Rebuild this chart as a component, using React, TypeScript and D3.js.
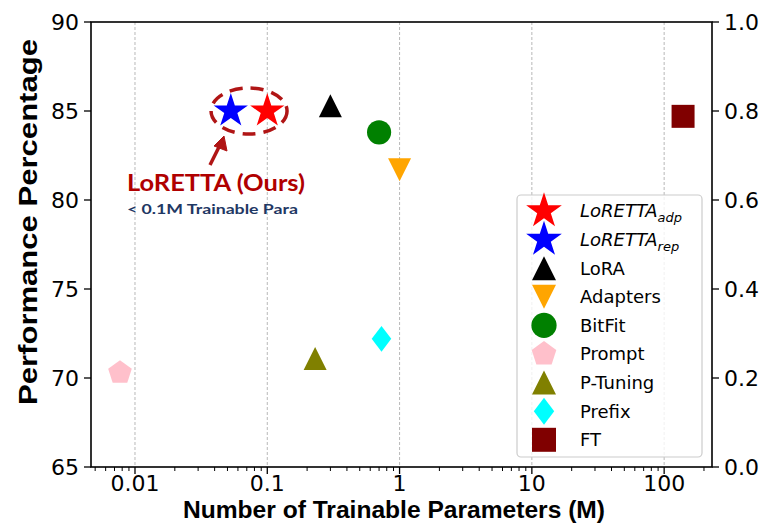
import React from "react";
import * as d3 from "d3";

const methods = ["LoRETTA_adp", "LoRETTA_rep", "LoRA", "Adapters", "BitFit", "Prompt", "P-Tuning", "Prefix", "FT"];
const legendMain = ["LoRETTA", "LoRETTA", "LoRA", "Adapters", "BitFit", "Prompt", "P-Tuning", "Prefix", "FT"];
const legendSub = ["adp", "rep", "", "", "", "", "", "", ""];
const params = [0.1, 0.053, 0.3, 1.0, 0.7, 0.0077, 0.23, 0.73, 139];
const performance = [85.0, 85.0, 85.3, 81.7, 83.8, 70.3, 71.1, 72.2, 84.7];
const colors = ["#ff0000", "#0000ff", "#000000", "#ffa500", "#008000", "#ffc0cb", "#808000", "#00ffff", "#800000"];
const markers = ["star", "star", "tri", "triDown", "circle", "pentagon", "tri", "diamond", "square"];
const xTicks = [0.01, 0.1, 1, 10, 100];
const xTickLabels = ["0.01", "0.1", "1", "10", "100"];
const yTicks = [65, 70, 75, 80, 85, 90];
const y2Ticks = [0, 0.2, 0.4, 0.6, 0.8, 1.0];

const W = 776, H = 527;
const L = 91, R = 712, T = 22, B = 467;

function markerPath(kind: string, s: number): string {
  const p = d3.path();
  if (kind === "star") {
    const ro = s * 1.5, ri = ro * 0.381966;
    for (let i = 0; i < 10; i++) {
      const r = i % 2 === 0 ? ro : ri;
      const a = -Math.PI / 2 + (i * Math.PI) / 5;
      const px = r * Math.cos(a), py = r * Math.sin(a);
      if (i === 0) p.moveTo(px, py); else p.lineTo(px, py);
    }
    p.closePath();
  } else if (kind === "tri") {
    p.moveTo(0, -s); p.lineTo(s, s); p.lineTo(-s, s); p.closePath();
  } else if (kind === "triDown") {
    p.moveTo(0, s); p.lineTo(s, -s); p.lineTo(-s, -s); p.closePath();
  } else if (kind === "circle") {
    p.arc(0, 0, s * 1.05, 0, Math.PI * 2);
  } else if (kind === "square") {
    p.rect(-s, -s, 2 * s, 2 * s);
  } else if (kind === "diamond") {
    p.moveTo(0, -s * 1.12); p.lineTo(s * 0.85, 0); p.lineTo(0, s * 1.12); p.lineTo(-s * 0.85, 0); p.closePath();
  } else if (kind === "pentagon") {
    const r = s * 1.08;
    for (let i = 0; i < 5; i++) {
      const a = -Math.PI / 2 + (i * 2 * Math.PI) / 5;
      if (i === 0) p.moveTo(r * Math.cos(a), r * Math.sin(a)); else p.lineTo(r * Math.cos(a), r * Math.sin(a));
    }
    p.closePath();
  }
  return p.toString();
}

export default function App() {
  const x = d3.scaleLog().domain([0.00465, 230]).range([L, R]);
  const y = d3.scaleLinear().domain([65, 90]).range([B, T]);
  const y2 = d3.scaleLinear().domain([0, 1]).range([B, T]);

  const minor: number[] = [];
  for (let e = -3; e <= 2; e++) {
    for (let m = 2; m <= 9; m++) {
      const v = m * Math.pow(10, e);
      if (v >= 0.00465 && v <= 230) minor.push(v);
    }
  }

  const tickFont = "DejaVu Sans, sans-serif";
  const s = 11.5;

  const cx = (x(params[0]) + x(params[1])) / 2;
  const cy = y(performance[0]);

  const legX = 517, legY = 195, legW = 185, legH = 262;

  return (
    <svg width={W} height={H} style={{ position: "absolute", left: 0, top: 0, background: "#fff" }}>
      <rect x={0} y={0} width={W} height={H} fill="#fff" />
      {/* grid */}
      {xTicks.map((t, i) => (
        <line key={"g" + i} x1={x(t)} x2={x(t)} y1={T} y2={B} stroke="#b0b0b0" strokeWidth={0.9} strokeDasharray="3,2" />
      ))}
      {/* points */}
      {methods.map((m, i) => (
        <path key={m} d={markerPath(markers[i], markers[i] === "star" ? 12 : s)} transform={`translate(${x(params[i])},${y(performance[i])})`} fill={colors[i]} />
      ))}
      {/* annotation */}
      <ellipse cx={cx} cy={cy} rx={38} ry={23} fill="none" stroke="#b01515" strokeWidth={3.5} strokeDasharray="13,8" />
      <line x1={210} y1={165} x2={220} y2={145} stroke="#b01515" strokeWidth={3.5} />
      <path d="M224,136 L227,151 L214,146 Z" fill="#b01515" stroke="#b01515" strokeWidth={1} />
      <text x={127} y={191} fontFamily="Lato, sans-serif" fontWeight="bold" fontSize={23} fill="#b00000" textLength={178} lengthAdjust="spacingAndGlyphs">LoRETTA (Ours)</text>
      <text x={127} y={214} fontFamily="Lato, sans-serif" fontWeight="bold" fontSize={13.5} fill="#1f3864" textLength={171} lengthAdjust="spacingAndGlyphs">&lt; 0.1M Trainable Para</text>
      {/* legend */}
      <rect x={legX} y={legY} width={legW} height={legH} rx={4} fill="#fff" fillOpacity={0.8} stroke="#cccccc" strokeWidth={1.2} />
      {methods.map((m, i) => {
        const ly = legY + 16 + i * 28.6;
        return (
          <g key={"l" + m}>
            <path d={markerPath(markers[i], markers[i] === "star" ? 12.5 : s + 0.5)} transform={`translate(544,${ly})`} fill={colors[i]} />
            <text x={580} y={ly} dy="0.36em" fontFamily={tickFont} fontSize={18} fontStyle={legendSub[i] ? "italic" : "normal"} fill="#000">
              {legendMain[i]}
              {legendSub[i] ? <tspan fontSize={13} dy="5">{legendSub[i]}</tspan> : null}
            </text>
          </g>
        );
      })}
      {/* spines */}
      <rect x={L} y={T} width={R - L} height={B - T} fill="none" stroke="#000" strokeWidth={1.6} />
      {/* x ticks */}
      {xTicks.map((t, i) => (
        <g key={"xt" + i}>
          <line x1={x(t)} x2={x(t)} y1={B} y2={B + 7} stroke="#000" strokeWidth={1.3} />
          <text x={x(t)} y={491} textAnchor="middle" fontFamily={tickFont} fontSize={22} fill="#000">{xTickLabels[i]}</text>
        </g>
      ))}
      {minor.map((t, i) => (
        <line key={"mt" + i} x1={x(t)} x2={x(t)} y1={B} y2={B + 4} stroke="#000" strokeWidth={1} />
      ))}
      {/* y ticks */}
      {yTicks.map((t) => (
        <g key={"yt" + t}>
          <line x1={L - 7} x2={L} y1={y(t)} y2={y(t)} stroke="#000" strokeWidth={1.3} />
          <text x={L - 12} y={y(t)} dy="0.36em" textAnchor="end" fontFamily={tickFont} fontSize={22} fill="#000">{t}</text>
        </g>
      ))}
      {y2Ticks.map((t) => (
        <g key={"y2t" + t}>
          <line x1={R} x2={R + 7} y1={y2(t)} y2={y2(t)} stroke="#000" strokeWidth={1.3} />
          <text x={R + 12} y={y2(t)} dy="0.36em" textAnchor="start" fontFamily={tickFont} fontSize={22} fill="#000">{t.toFixed(1)}</text>
        </g>
      ))}
      {/* axis labels */}
      <text x={394} y={518} textAnchor="middle" fontFamily="Liberation Sans, Arial, sans-serif" fontWeight="bold" fontSize={24} fill="#000" textLength={422} lengthAdjust="spacingAndGlyphs">Number of Trainable Parameters (M)</text>
      <text transform={`translate(37,222) rotate(-90)`} textAnchor="middle" fontFamily="Liberation Sans, Arial, sans-serif" fontWeight="bold" fontSize={25} fill="#000" textLength={366} lengthAdjust="spacingAndGlyphs">Performance Percentage</text>
    </svg>
  );
}
